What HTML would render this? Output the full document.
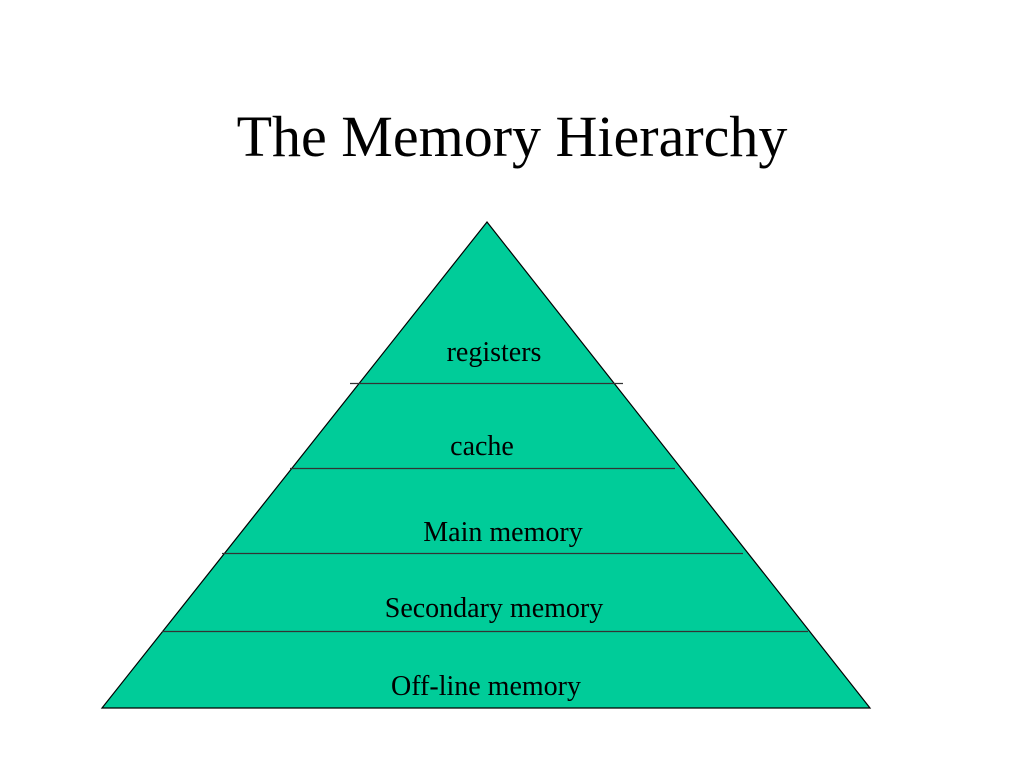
<!DOCTYPE html>
<html><head><meta charset="utf-8"><style>
html,body{margin:0;padding:0;background:#fff;width:1024px;height:768px;overflow:hidden}
svg{display:block}
text{font-family:"Liberation Serif",serif;fill:#000}
</style></head><body>
<svg width="1024" height="768" viewBox="0 0 1024 768">
<text x="512" y="156" font-size="58" text-anchor="middle">The Memory Hierarchy</text>
<polygon points="487,222 102,708 870,708" fill="#00CC99" stroke="#000" stroke-width="1.2"/>
<line x1="350" y1="383.5" x2="623" y2="383.5" stroke="#333" stroke-width="1.2"/>
<line x1="290" y1="468.5" x2="675" y2="468.5" stroke="#333" stroke-width="1.2"/>
<line x1="222" y1="553.5" x2="743" y2="553.5" stroke="#333" stroke-width="1.2"/>
<line x1="162" y1="631.5" x2="808" y2="631.5" stroke="#333" stroke-width="1.2"/>
<text x="494" y="361" font-size="28" text-anchor="middle">registers</text>
<text x="482" y="455" font-size="28" text-anchor="middle">cache</text>
<text x="503" y="541" font-size="28" text-anchor="middle">Main memory</text>
<text x="494" y="617" font-size="28" text-anchor="middle">Secondary memory</text>
<text x="486" y="695" font-size="28" text-anchor="middle">Off-line memory</text>
</svg>
</body></html>
